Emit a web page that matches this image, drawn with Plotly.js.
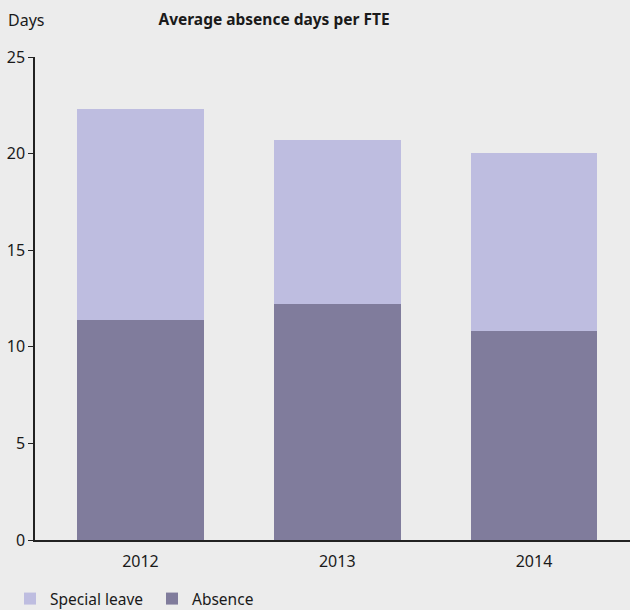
<!DOCTYPE html>
<html>
<head>
<meta charset="utf-8">
<script src="https://cdn.plot.ly/plotly-3.0.1.min.js"></script>
<style>html,body{margin:0;padding:0;background:#ececec;}#chart{width:630px;height:610px;}</style>
</head>
<body>
<div id="chart"></div>
<script>
var years = ['2012', '2013', '2014'];
var absence = [11.4, 12.2, 10.83];
var specialLeave = [10.91, 8.5, 9.18];
var yTicks = [0, 5, 10, 15, 20, 25];

var font = 'Noto Sans, Open Sans, sans-serif';
var traces = [
  {type: 'bar', name: 'Absence', x: years, y: absence,
   marker: {color: '#807c9c'}, hoverinfo: 'y'},
  {type: 'bar', name: 'Special leave', x: years, y: specialLeave,
   marker: {color: '#bebde0'}, hoverinfo: 'y'}
];
var layout = {
  width: 630, height: 610,
  paper_bgcolor: '#ececec', plot_bgcolor: '#ececec',
  margin: {l: 35, r: 0, t: 57, b: 70},
  barmode: 'stack', bargap: 0.355,
  font: {family: font, size: 16, color: '#1a1a1a'},
  title: {text: '<b>Average absence days per FTE</b>', x: 274/630, xanchor: 'center',
          y: 1 - 20/610, yanchor: 'middle', font: {size: 15.5, color: '#1a1a1a'}},
  xaxis: {type: 'category', range: [-0.536, 2.488], showline: true, linecolor: '#222', linewidth: 1.5,
          ticks: '', showgrid: false, zeroline: false, tickfont: {size: 16}, ticklabelstandoff: 6},
  yaxis: {range: [0, 25], tickvals: yTicks, showline: true, linecolor: '#222', linewidth: 1.5,
          ticks: 'outside', ticklen: 5, tickcolor: '#222', showgrid: false, zeroline: false,
          tickfont: {size: 16}},
  showlegend: true,
  legend: {orientation: 'h', traceorder: 'reversed', x: -0.042, xanchor: 'left',
           y: 11/610, yanchor: 'middle', yref: 'container',
           font: {size: 15.5}, entrywidth: 97, itemwidth: 30,
           bgcolor: 'rgba(0,0,0,0)'},
  annotations: [{text: 'Days', xref: 'paper', yref: 'paper', x: -29/595, xanchor: 'left',
                 y: 1 + 37/483, yanchor: 'middle', showarrow: false, font: {size: 16}}]
};
Plotly.newPlot('chart', traces, layout, {displayModeBar: false});
</script>
</body>
</html>
